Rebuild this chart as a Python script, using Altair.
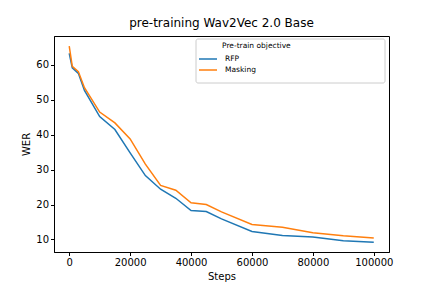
import altair as alt
import pandas as pd

steps = [0, 1000, 3000, 5000, 10000, 15000, 20000, 25000, 30000, 35000,
         40000, 45000, 50000, 60000, 70000, 80000, 90000, 100000]
rfp = [63.3, 59.2, 57.6, 52.7, 45.2, 41.5, 34.8, 28.3, 24.4, 21.8,
       18.3, 18.0, 15.9, 12.3, 11.1, 10.7, 9.6, 9.2]
masking = [65.4, 59.6, 58.1, 53.5, 46.5, 43.4, 38.8, 31.6, 25.5, 24.1,
           20.5, 20.0, 17.9, 14.3, 13.5, 11.9, 11.05, 10.4]
series = ["RFP", "Masking"]
colors = ["#1f77b4", "#ff7f0e"]
x_ticks = [0, 20000, 40000, 60000, 80000, 100000]
y_ticks = [10, 20, 30, 40, 50, 60]

rows = []
for name, vals in zip(series, [rfp, masking]):
    for s, v in zip(steps, vals):
        rows.append({"step": s, "wer": v, "objective": name})
df = pd.DataFrame(rows)

FONT = "DejaVu Sans"

frame = alt.Chart(alt.Data(values=[{}])).mark_rect(
    fill="white", stroke="#cccccc", strokeWidth=1, cornerRadius=2
).encode(x=alt.value(142), x2=alt.value(331), y=alt.value(3), y2=alt.value(47))

legend_title = alt.Chart(alt.Data(values=[{"t": "Pre-train objective"}])).mark_text(
    align="left", baseline="middle", fontSize=7.5, font=FONT, color="black"
).encode(x=alt.value(168), y=alt.value(10), text="t:N")

lines = alt.Chart(df).mark_line(strokeWidth=1.5).encode(
    x=alt.X("step:Q", title="Steps",
            scale=alt.Scale(domain=[-5000, 105000], nice=False, zero=False),
            axis=alt.Axis(values=x_ticks, format="d", grid=False)),
    y=alt.Y("wer:Q", title="WER",
            scale=alt.Scale(domain=[6.4, 68.3], nice=False, zero=False),
            axis=alt.Axis(values=y_ticks, grid=False)),
    color=alt.Color("objective:N",
                    scale=alt.Scale(domain=series, range=colors),
                    sort=series,
                    legend=alt.Legend(
                        title=None, orient="none", legendX=147, legendY=16,
                        symbolType="M-1.5,0H1.5", symbolSize=144,
                        symbolStrokeWidth=1.5, labelFontSize=7.5,
                        labelFont=FONT, labelColor="black", labelOffset=10,
                        rowPadding=0, padding=0)),
)

chart = alt.layer(frame, lines, legend_title).properties(
    width=335, height=216,
    title=alt.Title("pre-training Wav2Vec 2.0 Base", fontSize=12,
                    fontWeight="normal", font=FONT, color="black",
                    anchor="middle", offset=6),
    autosize=alt.AutoSizeParams(type="none"),
    padding={"left": 46, "top": 28, "right": 35, "bottom": 36},
).configure_view(stroke="black", strokeWidth=1).configure_axis(
    domainColor="black", tickColor="black", tickSize=3.5, labelFontSize=10,
    labelFont=FONT, labelColor="black", titleFont=FONT, titleFontSize=10,
    titleFontWeight="normal", titleColor="black", labelPadding=2,
    titlePadding=4, domainWidth=1, tickWidth=1,
)

chart.save("out.html", embed_options={"renderer": "svg", "actions": False})
